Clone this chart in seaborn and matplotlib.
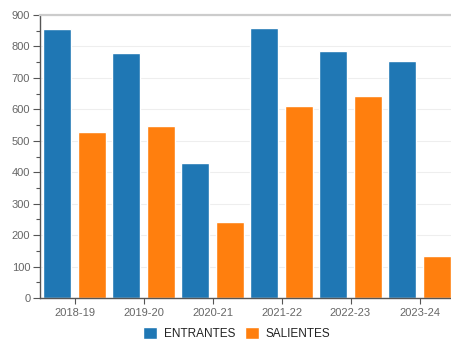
import matplotlib
matplotlib.use("Agg")
import matplotlib.pyplot as plt
from matplotlib.ticker import MultipleLocator
import seaborn as sns
import pandas as pd

seasons = ["2018-19", "2019-20", "2020-21", "2021-22", "2022-23", "2023-24"]
entrantes = [855, 778, 429, 858, 786, 755]
salientes = [527, 546, 242, 611, 641, 133]
series_names = ["ENTRANTES", "SALIENTES"]
colors = ["#1f77b4", "#ff7f0e"]

df = pd.DataFrame({
    "season": seasons * 2,
    "value": entrantes + salientes,
    "tipo": [series_names[0]] * len(seasons) + [series_names[1]] * len(seasons),
})

sns.set_theme(style="white")
plt.rcParams["font.family"] = ["Liberation Sans", "DejaVu Sans"]

fig = plt.figure(figsize=(4.51, 3.40), dpi=100)
ax = fig.add_axes([40 / 451, 42 / 340, 414 / 451, 283 / 340])

sns.barplot(data=df, x="season", y="value", hue="tipo", order=seasons,
            hue_order=series_names, palette=colors, width=1.0, gap=0.19,
            saturation=1, ax=ax, legend=True)

ax.set_ylim(0, 900)
ax.set_xlim(-0.5, len(seasons) - 0.5)
ax.yaxis.set_major_locator(MultipleLocator(100))
ax.yaxis.set_minor_locator(MultipleLocator(50))
ax.set_axisbelow(True)
ax.grid(axis="y", which="major", color="#eeeeee", linewidth=0.8)
ax.set_xlabel("")
ax.set_ylabel("")

ax.spines["right"].set_visible(False)
ax.spines["top"].set_color("#cccccc")
ax.spines["top"].set_linewidth(1.6)
for side in ["left", "bottom"]:
    ax.spines[side].set_color("#555555")
    ax.spines[side].set_linewidth(1.0)

ax.tick_params(axis="y", which="major", length=5, width=0.8, color="#555555",
               labelsize=8, labelcolor="#666666", pad=2, left=True)
ax.tick_params(axis="y", which="minor", length=3, width=0.8, color="#555555", left=True)
ax.tick_params(axis="x", length=4, width=0.8, color="#555555",
               labelsize=8, labelcolor="#666666", pad=3, bottom=True)

# legend centred under the plot
ax.legend(loc="center", bbox_to_anchor=(0.475, -0.125),
          ncol=2, frameon=False, fontsize=8.5, handlelength=1.2, handleheight=1.2,
          handletextpad=0.6, columnspacing=0.8, borderaxespad=0,
          labelcolor="#222222")

fig.savefig("out.png", dpi=100, facecolor="white")
